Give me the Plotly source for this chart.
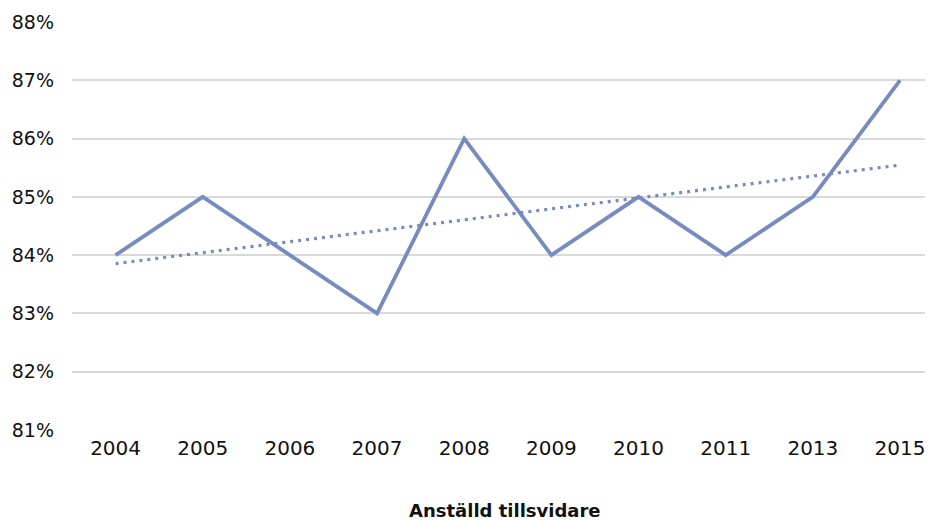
import plotly.graph_objects as go
import numpy as np

years = ["2004", "2005", "2006", "2007", "2008", "2009", "2010", "2011", "2013", "2015"]
values = [84, 85, 84, 83, 86, 84, 85, 84, 85, 87]
y_ticks = [81, 82, 83, 84, 85, 86, 87, 88]
x_title = "Anställd tillsvidare"

# linear trendline fitted to the series
idx = np.arange(len(values))
slope, intercept = np.polyfit(idx, values, 1)
trend = list(intercept + slope * idx)

color = "rgb(120,139,190)"
font = "DejaVu Sans, Liberation Sans, sans-serif"

fig = go.Figure()
fig.add_trace(go.Scatter(x=years, y=values, mode="lines",
                         line=dict(color=color, width=3.8), showlegend=False))
fig.add_trace(go.Scatter(x=years, y=trend, mode="lines",
                         line=dict(color=color, width=3.2, dash="3px,5px"), showlegend=False))

fig.update_layout(
    width=933, height=521,
    margin=dict(l=64, r=0, t=14, b=99),
    plot_bgcolor="white", paper_bgcolor="white",
    font=dict(family=font, color="#111111", size=19),
    xaxis=dict(type="category", range=[-0.5, 9.47], showgrid=False, zeroline=False,
               showline=False, ticks="", automargin=False, ticklabelstandoff=4,
               tickfont=dict(size=20)),
    yaxis=dict(range=[81, 88], tickvals=y_ticks, ticktext=[f"{v}%" for v in y_ticks],
               showgrid=True, gridcolor="#d9d9d9", gridwidth=1.5, zeroline=False,
               showline=False, ticks="", automargin=False, ticklabelstandoff=17,
               tickfont=dict(size=19)),
    annotations=[dict(text="<b>" + x_title + "</b>", xref="paper", yref="paper",
                      x=0.498, y=-80 / 408, xanchor="center", yanchor="middle",
                      showarrow=False, font=dict(size=18, color="#111111"))],
)

fig.write_html("out.html")
